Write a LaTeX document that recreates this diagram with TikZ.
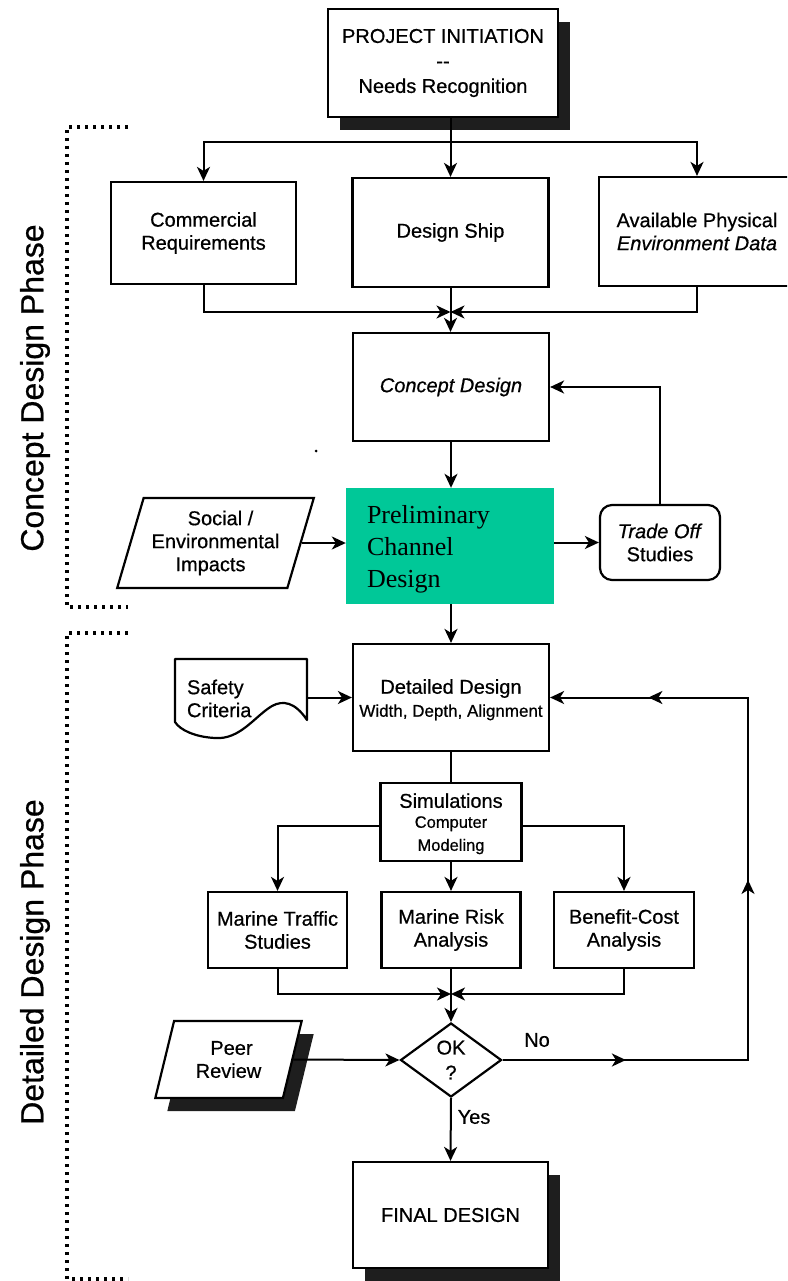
\documentclass[tikz,border=0pt]{standalone}
\usepackage{fontspec}
\setmainfont{Liberation Sans}[FakeBold=0.6]
\newfontfamily\prelimfont{Liberation Serif}
\usetikzlibrary{arrows.meta,shapes.geometric,shadows,decorations.markings}
\definecolor{prelimgreen}{RGB}{0,200,152}
\definecolor{shadowgray}{RGB}{30,30,30}
\begin{document}
\begin{tikzpicture}[x=1pt,y=-1pt,
  every node/.style={inner sep=0pt, font=\fontsize{20}{23}\selectfont},
  box/.style={draw, line width=2.2pt, rectangle, align=center, fill=white},
  tip/.style={-{Stealth[length=14pt,width=13pt,inset=4pt]}},
  conn/.style={line width=2pt},
  shade/.style={drop shadow={shadow xshift=12pt, shadow yshift=-13pt, fill=shadowgray, opacity=1}},
  phase/.style={rotate=90, font=\fontsize{32}{36}\selectfont},
  dotline/.style={line width=3.2pt, dash pattern=on 3pt off 5pt},
  para/.style={trapezium, trapezium stretches=true, draw, line width=2.2pt, fill=white, align=center},
]
\useasboundingbox (0,0) rectangle (787,1281);
\fill[white] (0,0) rectangle (787,1281);
\clip (0,0) rectangle (787,1281);

% phase brackets
\draw[dotline] (128,127) -- (67,127) -- (67,607) -- (128,607);
\draw[dotline] (128,633) -- (67,633) -- (67,1279) -- (128,1279);
\node[phase] (cphase) at (35,388) {Concept Design Phase};
\node[phase] (dphase) at (35,962) {Detailed Design Phase};

% nodes
\node[box, shade, minimum width=230, minimum height=108, font=\fontsize{20}{25}\selectfont] (proj) at (443,63) {PROJECT INITIATION\\-{}-\\Needs Recognition};
\node[box, minimum width=185, minimum height=102] (comm) at (203.5,233) {Commercial\\Requirements};
\node[box, minimum width=196, minimum height=109] (ds) at (450.5,232.5) {Design Ship};
\node[box, minimum width=196, minimum height=109] (avail) at (697,231.5) {Available Physical\\\textit{Environment Data}};
\node[box, minimum width=196, minimum height=108] (conc) at (451,387) {\textit{Concept Design}};
\node[fill=prelimgreen, minimum width=208, minimum height=116, text width=166, inner xsep=21pt, align=left, font=\prelimfont\fontsize{26}{32}\selectfont] (prelim) at (450,546) {\rule{0pt}{25pt}Preliminary\\Channel\\Design};
\node[para, trapezium left angle=70, trapezium right angle=110, minimum width=197, minimum height=90] (social) at (215.5,543) {\hspace*{10pt}Social /\\Environmental\\Impacts\hspace*{10pt}};
\node[box, rounded corners=12pt, minimum width=120, minimum height=75] (to) at (660,542.5) {\textit{Trade Off}\\Studies};

\node[box, minimum width=196, minimum height=107] (det) at (451,697.5) {\rule{0pt}{19pt}Detailed Design\\\fontsize{17}{20}\selectfont Width, Depth, Alignment};
\node[minimum width=132, minimum height=79, text width=108, inner xsep=12pt, align=left] (safety) at (241,698.5) {Safety\\Criteria};
\draw[conn, line width=2.2pt, line join=round] (175,659) -- (307,659) -- (307,720)
  .. controls (295,702) and (283,700) .. (272,706)
  .. controls (255,716) and (240,740) .. (215,738)
  .. controls (195,737) and (180,730) .. (175,722) -- cycle;

\node[box, minimum width=141, minimum height=78] (sim) at (451,822) {\rule{0pt}{18pt}Simulations\\[-3pt]\fontsize{16.5}{19}\selectfont Computer\\\fontsize{16.5}{19}\selectfont Modeling};
\node[box, minimum width=139, minimum height=76] (traffic) at (277.5,930) {Marine Traffic\\Studies};
\node[box, minimum width=139, minimum height=76] (risk) at (451,930) {Marine Risk\\Analysis};
\node[box, minimum width=140, minimum height=76] (benefit) at (624,930) {Benefit-Cost\\Analysis};

\node[diamond, draw, line width=2.2pt, fill=white, aspect=1.36, minimum width=101, minimum height=74, align=center, font=\fontsize{20}{25}\selectfont] (ok) at (451,1060) {OK\\?};
\node[para, shade, trapezium left angle=73, trapezium right angle=107, minimum width=147, minimum height=77] (peer) at (228.5,1059.5) {\hspace*{6pt}Peer\\Review};
\node[box, shade, minimum width=195, minimum height=106] (final) at (450.5,1215) {FINAL DESIGN};
\node (nolab) at (537,1040) {No};
\node (yeslab) at (474,1117) {Yes};
\fill (316,451) circle (1.5);

% connectors
\coordinate (br) at (450.5,142);
\draw[conn,tip] (ds.north |- proj.south) -- (ds.north);
\draw[conn,tip] (br) -| (comm.north);
\draw[conn,tip] (br) -| (avail.north);
\coordinate (m1) at (450.5,312);
\draw[conn,tip] (comm.south) |- (m1);
\draw[conn,tip] (avail.south) |- (m1);
\draw[conn,tip] (ds.south) -- (ds.south |- conc.north);
\draw[conn,tip] (conc.south) -- (conc.south |- prelim.north);
\draw[conn,tip] (social.east) -- (social.east -| prelim.west);
\draw[conn,tip] (prelim.east |- to.west) -- (to.west);
\draw[conn,tip] (to.north) |- (conc.east);
\draw[conn,tip] (det.north |- prelim.south) -- (det.north);
\draw[conn,tip] (safety.east |- det.west) -- (det.west);
\draw[conn] (det.south) -- (sim.north);
\draw[conn,tip] ([yshift=-4pt]sim.west) -| (traffic.north);
\draw[conn,tip] (sim.south) -- (risk.north);
\draw[conn,tip] ([yshift=-4pt]sim.east) -| (benefit.north);
\coordinate (m2) at (451,994);
\draw[conn,tip] (traffic.south) |- (m2);
\draw[conn,tip] (benefit.south) |- (m2);
\draw[conn,tip] (risk.south) -- (ok.north);
\draw[conn,tip] (peer.east) -- (ok.west);
\draw[conn,tip] (ok.south) -- (final.north);
\coordinate (rail) at (748,880);
\draw[conn, tip, postaction={decorate}, decoration={markings,
    mark=at position 0.153 with {\arrow{Stealth[length=14pt,width=13pt,inset=4pt]}},
    mark=at position 0.528 with {\arrow{Stealth[length=14pt,width=13pt,inset=4pt]}},
    mark=at position 0.878 with {\arrow{Stealth[length=14pt,width=13pt,inset=4pt]}}}]
  (ok.east) -- (ok.east -| rail) -- (rail |- det.east) -- (det.east);
\end{tikzpicture}
\end{document}
